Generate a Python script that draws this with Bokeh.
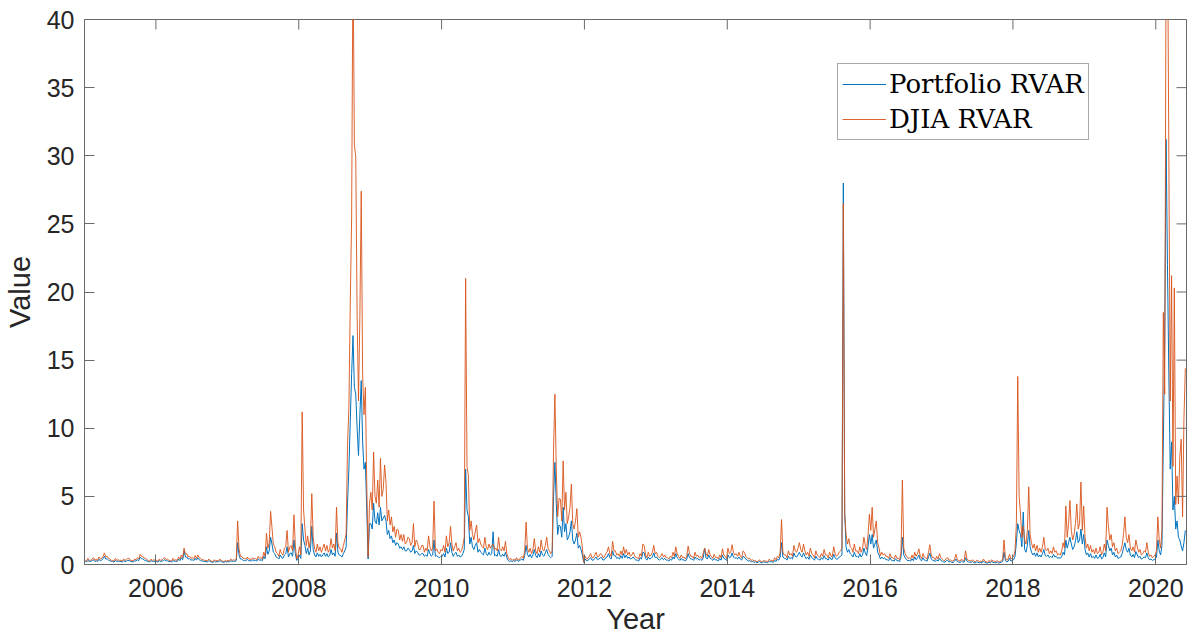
import numpy as np
from bokeh.plotting import figure
from bokeh.models import Range1d, FixedTicker, Legend, LegendItem, ColumnDataSource, Title
from bokeh.embed import file_html
from bokeh.resources import INLINE

start_year = 2005
per_year = 52

djia_2005 = [0.35,0.25,0.45,0.3,0.3,0.4,0.5,0.3,0.4,0.3,0.55,0.4,0.45,0.6,0.85,0.55,0.6,0.45,0.4,0.3,0.3,0.25,0.45,0.3,0.35,0.3,0.3,0.25,0.4,0.3,0.35,0.45,0.45,0.3,0.3,0.25,0.4,0.35,0.5,0.4,0.75,0.6,0.6,0.45,0.45,0.35,0.3,0.25,0.4,0.3,0.35,0.3]
djia_2006 = [0.3,0.25,0.4,0.3,0.35,0.45,0.5,0.35,0.4,0.3,0.3,0.25,0.45,0.3,0.35,0.3,0.55,0.4,0.7,0.5,1.2,0.75,0.8,0.55,0.6,0.45,0.5,0.4,0.65,0.45,0.7,0.5,0.45,0.35,0.35,0.3,0.3,0.25,0.4,0.3,0.25,0.2,0.35,0.25,0.3,0.25,0.4,0.3,0.25,0.2,0.3,0.25]
djia_2007 = [0.3,0.25,0.4,0.3,0.35,0.3,0.4,3.2,1.15,0.6,0.6,0.45,0.45,0.4,0.55,0.4,0.4,0.35,0.5,0.4,0.45,0.35,0.6,0.45,0.5,0.4,0.9,0.6,2.3,1.2,1.6,3.9,2.7,1.5,1.3,0.9,0.8,0.6,1.1,0.8,0.7,1.2,1.3,2.5,0.9,1.3,1.4,1.0,3.65,1.4,0.4,0.7]
djia_2008 = [1.3,0.7,11.2,4.0,2.6,1.4,2.1,1.2,1.8,5.2,2.0,1.2,0.9,1.5,1.0,1.3,0.9,1.2,1.5,1.0,1.4,0.9,1.1,1.9,1.2,1.5,1.0,4.2,1.6,1.2,1.15,0.9,1.4,1.8,2.25,8.75,11.5,19.1,25.5,45.0,30.8,29.9,18.2,12.0,18.3,27.4,14.0,11.0,13.0,6.0,0.55,4.5]
djia_2009 = [5.3,4.0,8.25,5.0,4.5,6.2,4.2,7.8,5.0,5.5,7.3,6.05,3.2,4.0,2.9,3.5,2.4,2.8,2.0,2.6,2.5,1.8,2.2,1.7,2.2,1.5,1.6,2.0,1.9,1.4,1.6,3.0,1.3,1.8,1.6,1.1,1.1,1.4,1.4,0.9,1.2,1.0,2.1,1.3,1.0,1.2,4.65,1.0,1.15,0.9,0.8,1.1]
djia_2010 = [1.0,1.4,0.9,2.1,1.3,1.6,2.8,1.5,1.0,1.3,1.6,1.0,1.2,0.9,1.0,1.4,2.0,21.0,7.2,6.5,2.5,3.2,2.2,1.8,2.4,2.9,1.6,1.9,1.5,1.3,1.2,2.0,1.3,1.1,1.5,1.2,1.4,1.5,1.1,1.2,1.0,2.0,1.1,1.0,1.3,1.0,1.7,0.8,0.5,0.35,0.45,0.3]
djia_2011 = [0.4,0.3,0.5,0.35,0.35,0.5,0.6,0.45,1.0,3.1,1.2,0.9,1.2,0.8,1.1,1.9,1.0,0.8,1.3,0.9,1.8,1.1,1.0,1.4,2.0,1.2,1.0,0.8,1.0,8.4,12.5,7.0,3.5,4.85,4.8,3.2,7.6,4.0,5.3,3.0,3.5,4.2,5.9,3.0,2.6,3.2,4.1,2.0,2.4,2.0,1.2,0.2]
djia_2012 = [0.6,0.4,0.45,0.6,0.8,0.5,0.5,0.7,0.9,0.55,0.6,0.8,0.75,0.5,0.55,0.8,0.9,1.3,0.8,0.6,1.7,1.0,1.0,0.7,0.8,0.6,1.0,0.7,1.3,0.8,1.1,0.7,0.9,0.6,0.7,0.9,0.65,0.5,0.5,0.4,0.8,0.6,1.5,1.4,0.7,0.5,0.9,0.6,0.7,0.9,1.4,0.8]
djia_2013 = [0.9,0.6,0.5,0.6,0.8,0.55,0.7,0.5,0.5,0.4,0.6,0.5,0.9,0.6,1.3,0.8,0.6,0.45,0.7,0.5,0.55,0.4,0.6,1.35,0.8,0.6,0.6,0.45,0.9,0.6,0.7,0.5,0.6,0.45,0.8,1.2,0.8,0.6,1.1,0.7,0.6,0.45,0.75,0.5,0.55,0.4,0.7,0.5,1.15,0.7,0.6,0.45]
djia_2014 = [1.2,0.8,0.9,1.45,0.9,0.7,0.8,0.6,0.9,0.6,0.5,1.0,0.9,0.6,0.5,0.4,0.45,0.3,0.35,0.25,0.3,0.2,0.25,0.35,0.2,0.2,0.3,0.25,0.25,0.2,0.4,0.3,0.3,0.25,0.5,0.35,0.6,0.5,0.9,3.3,0.9,0.7,0.7,0.5,1.0,0.7,0.8,0.6,1.4,1.0,0.9,1.2]
djia_2015 = [1.6,1.1,0.9,1.5,1.0,0.7,0.9,0.6,1.2,0.8,0.7,0.5,1.0,0.7,0.6,0.5,0.8,0.6,1.1,0.7,0.7,0.5,0.9,0.6,0.6,1.3,0.8,0.6,0.7,0.9,1.0,1.2,26.5,3.7,2.2,1.5,1.9,1.3,1.2,0.9,1.5,1.0,1.0,0.8,1.3,0.9,1.2,2.0,1.4,1.1,2.2,3.7]
djia_2016 = [2.5,4.2,2.0,2.6,3.2,1.6,1.2,0.65,0.9,0.7,0.8,0.6,0.6,0.45,0.8,0.5,0.5,0.4,0.7,0.45,0.45,0.35,0.9,6.2,1.2,0.8,0.6,0.45,0.5,0.4,0.7,0.45,0.9,0.6,0.8,1.15,0.6,0.45,0.8,0.55,0.5,0.4,0.9,1.45,0.7,0.5,0.5,0.35,0.6,0.4,0.8,0.5]
djia_2017 = [0.4,0.3,0.3,0.45,0.5,0.3,0.35,0.25,0.25,0.4,0.75,0.35,0.3,0.25,0.4,0.3,0.3,1.0,0.4,0.3,0.3,0.25,0.35,0.25,0.2,0.3,0.3,0.2,0.25,0.2,0.4,0.25,0.2,0.15,0.3,0.2,0.35,0.25,0.25,0.2,0.3,0.2,0.2,0.3,0.35,1.8,0.5,0.3,0.4,0.75,0.4,0.5]
djia_2018 = [0.6,1.0,3.0,13.8,5.0,3.7,2.0,2.8,1.8,1.5,2.5,5.7,2.2,1.6,1.2,1.5,1.0,1.4,0.9,1.2,0.9,1.3,2.0,1.1,1.0,1.2,0.8,1.0,0.8,1.3,0.9,1.0,0.7,0.8,0.7,1.0,1.6,1.2,4.3,2.0,3.0,4.7,2.5,1.8,2.2,3.0,4.45,2.6,3.0,6.05,2.5,4.3]
djia_2019 = [2.0,1.2,1.5,1.0,1.4,0.9,1.1,0.8,1.2,0.8,0.9,1.3,0.7,0.9,1.5,1.0,4.2,2.8,1.8,2.2,1.3,1.6,1.0,1.2,0.8,0.9,1.0,1.4,2.2,3.5,2.0,1.6,2.2,1.2,1.0,1.3,0.9,1.8,1.3,0.9,1.1,0.7,0.8,1.0,0.9,1.6,0.9,0.6,0.7,0.5,0.6,0.7]
djia_2020 = [1.0,3.5,1.8,1.2,2.5,18.5,12.5,45.0,48.0,30.0,12.0,21.2,7.2,20.3,4.4,6.5,4.45,7.9,9.2,3.5,10.7,14.4]

portfolio_2005 = [0.25,0.18,0.3,0.22,0.22,0.28,0.35,0.22,0.28,0.22,0.38,0.28,0.32,0.42,0.6,0.4,0.42,0.32,0.28,0.22,0.22,0.18,0.3,0.22,0.25,0.22,0.22,0.18,0.28,0.22,0.25,0.3,0.3,0.22,0.22,0.18,0.28,0.25,0.35,0.28,0.55,0.42,0.42,0.32,0.3,0.25,0.22,0.18,0.28,0.22,0.25,0.22]
portfolio_2006 = [0.22,0.18,0.28,0.22,0.25,0.3,0.35,0.25,0.28,0.22,0.22,0.18,0.3,0.22,0.25,0.22,0.4,0.28,0.5,0.35,1.0,0.55,0.55,0.4,0.42,0.32,0.35,0.28,0.45,0.32,0.5,0.35,0.3,0.25,0.25,0.22,0.22,0.18,0.28,0.22,0.18,0.15,0.25,0.18,0.22,0.18,0.28,0.22,0.18,0.15,0.22,0.18]
portfolio_2007 = [0.22,0.18,0.28,0.22,0.25,0.22,0.28,1.6,0.7,0.4,0.4,0.3,0.3,0.28,0.38,0.28,0.28,0.25,0.35,0.28,0.3,0.25,0.42,0.3,0.35,0.28,0.6,0.42,1.3,0.75,1.0,2.0,1.5,0.9,0.8,0.55,0.5,0.4,0.7,0.5,0.45,0.7,0.8,1.3,0.55,0.8,0.85,0.6,1.8,0.8,0.3,0.45]
portfolio_2008 = [0.7,0.45,3.0,1.8,1.4,0.8,1.2,0.7,1.0,2.8,1.1,0.7,0.55,0.85,0.6,0.75,0.55,0.7,0.85,0.6,0.8,0.55,0.65,1.1,0.7,0.85,0.6,2.3,0.9,0.7,0.65,0.55,0.8,1.0,1.3,4.5,7.0,10.5,14.0,16.8,13.0,12.5,10.0,8.0,11.0,13.5,9.0,7.0,7.5,4.0,0.4,3.0]
portfolio_2009 = [3.0,2.6,4.5,3.2,3.0,3.8,2.9,4.2,3.2,3.4,3.6,3.2,2.2,2.5,1.9,2.1,1.6,1.8,1.4,1.6,1.5,1.2,1.3,1.1,1.3,1.0,1.0,1.2,1.1,0.9,1.0,1.4,0.8,1.0,0.9,0.7,0.7,0.8,0.8,0.6,0.7,0.6,1.1,0.8,0.6,0.7,1.8,0.6,0.65,0.55,0.5,0.6]
portfolio_2010 = [0.6,0.8,0.55,1.2,0.8,0.9,1.6,0.9,0.6,0.8,0.9,0.6,0.7,0.55,0.6,0.8,1.1,7.0,4.0,3.5,1.5,2.0,1.3,1.1,1.4,1.6,0.9,1.1,0.9,0.8,0.7,1.2,0.8,0.65,0.9,0.7,0.8,2.4,0.65,0.7,0.6,1.1,0.65,0.6,0.75,0.6,0.9,0.5,0.3,0.22,0.28,0.2]
portfolio_2011 = [0.28,0.22,0.35,0.25,0.25,0.35,0.4,0.3,0.65,1.4,0.75,0.55,0.75,0.5,0.7,1.1,0.65,0.5,0.8,0.55,1.0,0.7,0.6,0.85,1.1,0.75,0.6,0.5,0.6,5.0,7.5,4.5,2.2,2.9,2.8,2.0,4.2,2.4,3.0,1.8,2.0,2.4,3.2,1.8,1.5,1.8,2.3,1.2,1.4,1.1,0.7,0.15]
portfolio_2012 = [0.4,0.28,0.3,0.4,0.5,0.32,0.32,0.45,0.55,0.35,0.4,0.5,0.5,0.32,0.35,0.5,0.55,0.8,0.5,0.4,1.0,0.65,0.65,0.45,0.5,0.4,0.65,0.45,0.8,0.5,0.7,0.45,0.55,0.4,0.45,0.55,0.4,0.32,0.32,0.25,0.5,0.4,0.9,0.85,0.45,0.32,0.55,0.4,0.45,0.55,0.85,0.5]
portfolio_2013 = [0.55,0.4,0.32,0.4,0.5,0.35,0.45,0.32,0.32,0.25,0.4,0.32,0.55,0.4,0.8,0.5,0.4,0.3,0.45,0.32,0.35,0.25,0.4,0.8,0.5,0.4,0.4,0.3,0.55,0.4,0.45,0.32,0.4,0.3,0.5,1.2,0.5,0.4,0.7,0.45,0.4,0.3,0.45,0.32,0.35,0.25,0.45,0.32,0.7,0.45,0.4,0.3]
portfolio_2014 = [0.7,0.5,0.55,0.85,0.55,0.45,0.5,0.4,0.55,0.4,0.32,0.6,0.55,0.4,0.32,0.25,0.28,0.2,0.22,0.16,0.2,0.13,0.16,0.22,0.13,0.13,0.2,0.16,0.16,0.13,0.25,0.2,0.2,0.16,0.3,0.22,0.4,0.32,0.55,1.6,0.55,0.45,0.45,0.32,0.6,0.45,0.5,0.4,0.85,0.6,0.55,0.7]
portfolio_2015 = [0.9,0.65,0.55,0.85,0.6,0.42,0.55,0.38,0.7,0.5,0.42,0.32,0.6,0.42,0.38,0.32,0.5,0.38,0.65,0.42,0.42,0.32,0.55,0.38,0.38,0.75,0.5,0.38,0.42,0.55,0.6,0.7,28.0,3.8,1.3,0.9,1.1,0.8,0.7,0.55,0.9,0.6,0.6,0.5,0.8,0.55,0.7,1.2,0.85,0.65,1.3,2.2]
portfolio_2016 = [1.5,2.2,1.2,1.5,1.8,0.9,0.7,0.4,0.55,0.42,0.5,0.35,0.35,0.28,0.5,0.3,0.3,0.25,0.42,0.28,0.28,0.22,0.55,2.0,0.7,0.5,0.35,0.28,0.3,0.25,0.42,0.28,0.55,0.35,0.5,0.7,0.35,0.28,0.5,0.32,0.3,0.25,0.55,0.85,0.42,0.3,0.3,0.22,0.35,0.25,0.45,0.3]
portfolio_2017 = [0.25,0.18,0.18,0.28,0.3,0.18,0.22,0.15,0.15,0.25,0.4,0.22,0.18,0.15,0.25,0.18,0.18,0.5,0.25,0.18,0.18,0.15,0.22,0.15,0.12,0.18,0.18,0.12,0.15,0.12,0.25,0.15,0.12,0.1,0.18,0.12,0.22,0.15,0.15,0.12,0.18,0.12,0.12,0.18,0.22,0.9,0.3,0.18,0.25,0.45,0.25,0.3]
portfolio_2018 = [0.35,0.6,1.6,3.0,2.5,2.2,1.3,3.85,1.1,0.9,1.4,2.5,1.3,0.9,0.7,0.85,0.6,0.85,0.55,0.7,0.55,0.8,1.1,0.65,0.6,0.7,0.5,0.6,0.5,0.75,0.55,0.6,0.45,0.5,0.45,0.6,0.9,0.7,1.8,1.2,1.6,2.0,1.5,1.1,1.3,1.7,2.4,1.6,1.8,2.6,1.5,2.2]
portfolio_2019 = [1.1,0.7,0.85,0.55,0.8,0.5,0.6,0.45,0.7,0.45,0.5,0.75,0.4,0.5,0.85,0.55,1.8,1.4,1.0,1.2,0.7,0.9,0.55,0.7,0.45,0.5,0.55,0.8,1.2,1.6,1.1,0.9,1.2,0.7,0.55,0.75,0.5,0.95,0.7,0.5,0.6,0.4,0.45,0.55,0.5,0.85,0.5,0.35,0.4,0.3,0.35,0.4]
portfolio_2020 = [0.55,1.8,1.0,0.7,1.4,9.0,16.4,31.2,22.0,14.0,7.0,9.0,4.0,5.0,2.6,3.2,2.0,1.8,1.35,1.0,1.6,2.5]

x_ticks = [2006, 2008, 2010, 2012, 2014, 2016, 2018, 2020]
y_ticks = [0, 5, 10, 15, 20, 25, 30, 35, 40]
series_names = ["Portfolio RVAR", "DJIA RVAR"]
x_lo, x_hi = 2005.0, 2020.43
y_lo, y_hi = 0, 40

djia = sum([djia_2005, djia_2006, djia_2007, djia_2008, djia_2009, djia_2010, djia_2011,
            djia_2012, djia_2013, djia_2014, djia_2015, djia_2016, djia_2017, djia_2018,
            djia_2019, djia_2020], [])
portfolio = sum([portfolio_2005, portfolio_2006, portfolio_2007, portfolio_2008, portfolio_2009,
                 portfolio_2010, portfolio_2011, portfolio_2012, portfolio_2013, portfolio_2014,
                 portfolio_2015, portfolio_2016, portfolio_2017, portfolio_2018, portfolio_2019,
                 portfolio_2020], [])
t = start_year + (np.arange(len(djia)) + 0.5) / per_year

src = ColumnDataSource(dict(t=t, djia=djia, portfolio=portfolio))

TXT = "#262626"
AX = "#6a6a6a"
W, H = 1194, 643
ML, MR, MT, MB = 83, 8, 19, 79
FW, FH = W - ML - MR, H - MT - MB
TICK = 10

p = figure(width=W, height=H, output_backend="svg", toolbar_location=None,
           x_range=Range1d(x_lo, x_hi), y_range=Range1d(y_lo, y_hi),
           min_border_left=ML, min_border_right=MR, min_border_top=MT, min_border_bottom=MB)
p.background_fill_color = "white"
p.border_fill_color = "white"
p.outline_line_color = AX
p.outline_line_width = 1
p.grid.visible = False

r_port = p.line("t", "portfolio", source=src, line_color="#0072BD", line_width=1)
r_djia = p.line("t", "djia", source=src, line_color="#D95319", line_width=1, line_alpha=0.9)

# inward ticks on the top and right edges (box style)
dy = TICK * (y_hi - y_lo) / FH
dx = TICK * (x_hi - x_lo) / FW
p.segment(x0=x_ticks, y0=[y_hi] * len(x_ticks), x1=x_ticks, y1=[y_hi - dy] * len(x_ticks),
          line_color=AX, line_width=1)
p.segment(x0=[x_hi] * len(y_ticks), y0=y_ticks, x1=[x_hi - dx] * len(y_ticks), y1=y_ticks,
          line_color=AX, line_width=1)

for ax, ticks in ((p.xaxis[0], x_ticks), (p.yaxis[0], y_ticks)):
    ax.ticker = FixedTicker(ticks=ticks)
    ax.axis_line_color = AX
    ax.major_tick_line_color = AX
    ax.major_tick_in = TICK
    ax.major_tick_out = 0
    ax.minor_tick_line_color = None
    ax.major_label_text_font = "Liberation Sans"
    ax.major_label_text_font_size = "25px"
    ax.major_label_text_color = TXT
    ax.axis_label_text_font = "Liberation Sans"
    ax.axis_label_text_font_size = "29px"
    ax.axis_label_text_font_style = "normal"
    ax.axis_label_text_color = TXT

p.xaxis[0].major_label_standoff = 14
p.yaxis[0].axis_label = "Value"
p.yaxis[0].major_label_standoff = 10
p.yaxis[0].axis_label_standoff = 8

year_title = Title(text="Year", align="center", text_font="Liberation Sans",
                   text_font_size="29px", text_font_style="normal", text_color=TXT,
                   standoff=3, offset=0)
p.add_layout(year_title, "below")

legend = Legend(items=[LegendItem(label=series_names[0], renderers=[r_port]),
                       LegendItem(label=series_names[1], renderers=[r_djia])],
                location=(753, 424))
legend.margin = 0
legend.padding = 4
legend.spacing = 3
legend.glyph_width = 44
legend.glyph_height = 32
legend.label_height = 32
legend.label_standoff = 3
legend.label_text_font = "DejaVu Serif"
legend.label_text_font_size = "26px"
legend.label_text_color = "black"
legend.border_line_color = "#555555"
legend.border_line_width = 1
legend.background_fill_alpha = 1.0
p.add_layout(legend, "center")

open("out.html", "w").write(file_html(p, INLINE))
